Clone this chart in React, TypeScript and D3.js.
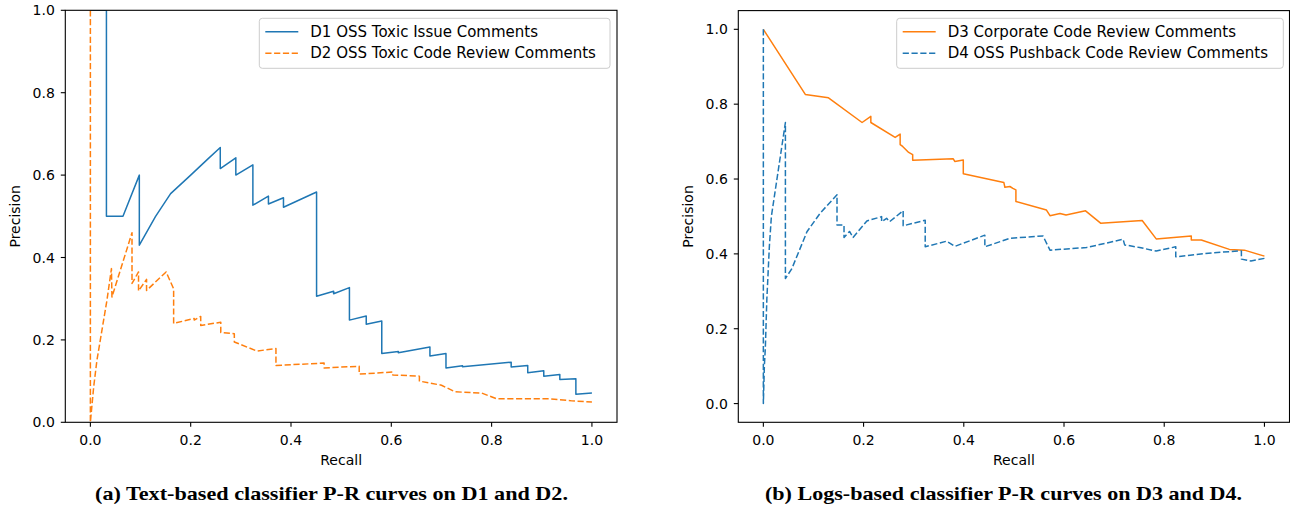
import React from "react";
import * as d3 from "d3";

// ---------- data ----------
const xTicks = [0, 0.2, 0.4, 0.6, 0.8, 1.0];
const yTicksLeft = [0, 0.2, 0.4, 0.6, 0.8, 1.0];
const yTicksRight = [0, 0.2, 0.4, 0.6, 0.8, 1.0];

const d1Recall = [0, 0.032, 0.032, 0.065, 0.0976, 0.0976, 0.13, 0.16, 0.2, 0.235, 0.259, 0.259, 0.29, 0.29, 0.324, 0.324, 0.355, 0.355, 0.385, 0.385, 0.451, 0.451, 0.485, 0.485, 0.5165, 0.5165, 0.55, 0.55, 0.581, 0.581, 0.614, 0.614, 0.677, 0.677, 0.709, 0.709, 0.742, 0.742, 0.839, 0.839, 0.872, 0.872, 0.904, 0.904, 0.936, 0.936, 0.968, 0.968, 1.0];
const d1Precision = [1.0, 1.0, 0.5, 0.5, 0.6, 0.43, 0.5, 0.555, 0.6, 0.64, 0.667, 0.616, 0.642, 0.6, 0.625, 0.527, 0.549, 0.53, 0.545, 0.522, 0.559, 0.306, 0.318, 0.312, 0.327, 0.248, 0.258, 0.238, 0.246, 0.167, 0.172, 0.169, 0.183, 0.161, 0.167, 0.132, 0.137, 0.135, 0.146, 0.134, 0.138, 0.12, 0.125, 0.112, 0.116, 0.104, 0.106, 0.068, 0.071];

const d2Recall = [0, 0, 0.0066, 0.013, 0.023, 0.033, 0.042, 0.043, 0.083, 0.083, 0.096, 0.096, 0.112, 0.112, 0.151, 0.166, 0.166, 0.207, 0.207, 0.22, 0.22, 0.26, 0.26, 0.287, 0.287, 0.332, 0.37, 0.37, 0.438, 0.466, 0.466, 0.536, 0.536, 0.603, 0.603, 0.656, 0.656, 0.7, 0.727, 0.78, 0.81, 0.916, 0.96, 1.0];
const d2Precision = [1.0, 0.0, 0.086, 0.15, 0.223, 0.296, 0.373, 0.304, 0.46, 0.337, 0.365, 0.319, 0.347, 0.32, 0.365, 0.324, 0.24, 0.252, 0.248, 0.257, 0.235, 0.243, 0.218, 0.215, 0.195, 0.173, 0.179, 0.138, 0.142, 0.144, 0.132, 0.136, 0.117, 0.122, 0.115, 0.112, 0.1, 0.09, 0.074, 0.071, 0.057, 0.057, 0.052, 0.049];

const d3Recall = [0, 0.0837, 0.13, 0.197, 0.2145, 0.2145, 0.263, 0.273, 0.273, 0.278, 0.29, 0.298, 0.298, 0.379, 0.382, 0.399, 0.399, 0.48, 0.482, 0.492, 0.498, 0.504, 0.504, 0.565, 0.572, 0.592, 0.604, 0.643, 0.673, 0.756, 0.784, 0.854, 0.854, 0.874, 0.93, 0.96, 1.0];
const d3Precision = [1.0, 0.826, 0.817, 0.751, 0.7675, 0.751, 0.711, 0.72, 0.692, 0.687, 0.671, 0.665, 0.65, 0.654, 0.647, 0.651, 0.614, 0.5906, 0.578, 0.58, 0.575, 0.571, 0.54, 0.517, 0.502, 0.508, 0.504, 0.515, 0.482, 0.489, 0.44, 0.448, 0.437, 0.437, 0.412, 0.41, 0.394];

const d4Recall = [0, 0, 0.002, 0.004, 0.007, 0.012, 0.016, 0.044, 0.044, 0.057, 0.087, 0.1135, 0.147, 0.147, 0.161, 0.161, 0.172, 0.179, 0.2066, 0.236, 0.236, 0.246, 0.252, 0.279, 0.279, 0.323, 0.323, 0.366, 0.382, 0.442, 0.442, 0.492, 0.558, 0.572, 0.645, 0.718, 0.721, 0.751, 0.784, 0.823, 0.823, 0.897, 0.954, 0.954, 0.973, 1.0];
const d4Precision = [1.0, 0.0, 0.1, 0.15, 0.28, 0.42, 0.5, 0.751, 0.334, 0.361, 0.459, 0.509, 0.558, 0.477, 0.477, 0.444, 0.46, 0.444, 0.488, 0.4995, 0.486, 0.495, 0.486, 0.5155, 0.475, 0.49, 0.419, 0.434, 0.42, 0.45, 0.419, 0.4415, 0.448, 0.41, 0.417, 0.439, 0.424, 0.417, 0.4075, 0.419, 0.392, 0.403, 0.408, 0.386, 0.381, 0.388];

const legendLeft = ["D1 OSS Toxic Issue Comments", "D2 OSS Toxic Code Review Comments"];
const legendRight = ["D3 Corporate Code Review Comments", "D4 OSS Pushback Code Review Comments"];
const captions = [
  "(a) Text-based classifier P-R curves on D1 and D2.",
  "(b) Logs-based classifier P-R curves on D3 and D4.",
];

const BLUE = "#1f77b4";
const ORANGE = "#ff7f0e";
const DASH = "6.2,2.6";
const SANS = "'DejaVu Sans', sans-serif";

type Series = { x: number[]; y: number[]; color: string; dash?: string };

function Panel(props: {
  id: string;
  left: number;
  right: number;
  top: number;
  bottom: number;
  yDomain: [number, number];
  yTicks: number[];
  series: Series[];
  legend: string[];
  legendBox: { x: number; w: number };
  caption: string;
  captionX: number;
  captionW: number;
}) {
  const { id, left, right, top, bottom, yDomain, yTicks, series, legend, legendBox, caption, captionX, captionW } = props;
  const x = d3.scaleLinear().domain([-0.05, 1.05]).range([left, right]);
  const y = d3.scaleLinear().domain(yDomain).range([bottom, top]);
  const line = d3
    .line<[number, number]>()
    .x((d) => x(d[0]))
    .y((d) => y(d[1]));
  const fmt = d3.format(".1f");
  const tickLen = 4.5;
  return (
    <g>
      <defs>
        <clipPath id={id}>
          <rect x={left} y={top} width={right - left} height={bottom - top} />
        </clipPath>
      </defs>
      <g clipPath={`url(#${id})`}>
        {series.map((s, i) => (
          <path
            key={i}
            d={line(s.x.map((v, j) => [v, s.y[j]] as [number, number])) || ""}
            fill="none"
            stroke={s.color}
            strokeWidth={1.5}
            strokeDasharray={s.dash}
            strokeLinejoin="round"
          />
        ))}
      </g>
      <rect x={left} y={top} width={right - left} height={bottom - top} fill="none" stroke="#000" strokeWidth={1.1} />
      {xTicks.map((t) => (
        <g key={"x" + t}>
          <line x1={x(t)} x2={x(t)} y1={bottom} y2={bottom + tickLen} stroke="#000" strokeWidth={1.1} />
          <text x={x(t)} y={445} textAnchor="middle" fontFamily={SANS} fontSize={14} fill="#000">
            {fmt(t)}
          </text>
        </g>
      ))}
      {yTicks.map((t) => (
        <g key={"y" + t}>
          <line x1={left - tickLen} x2={left} y1={y(t)} y2={y(t)} stroke="#000" strokeWidth={1.1} />
          <text x={left - tickLen - 6} y={y(t) + 5} textAnchor="end" fontFamily={SANS} fontSize={14} fill="#000">
            {fmt(t)}
          </text>
        </g>
      ))}
      <text x={(left + right) / 2} y={465} textAnchor="middle" fontFamily={SANS} fontSize={14} fill="#000">
        Recall
      </text>
      <text
        transform={`translate(${left - 45},${(top + bottom) / 2}) rotate(-90)`}
        textAnchor="middle"
        fontFamily={SANS}
        fontSize={14}
        fill="#000"
      >
        Precision
      </text>
      <rect
        x={legendBox.x}
        y={18.3}
        width={legendBox.w}
        height={50}
        rx={3}
        fill="#fff"
        fillOpacity={0.8}
        stroke="#cccccc"
        strokeWidth={1}
      />
      {legend.map((l, i) => (
        <g key={l}>
          <line
            x1={legendBox.x + 6}
            x2={legendBox.x + 39}
            y1={31.7 + i * 21.6}
            y2={31.7 + i * 21.6}
            stroke={series[i].color}
            strokeWidth={1.5}
            strokeDasharray={series[i].dash}
          />
          <text x={legendBox.x + 51} y={31.7 + i * 21.6 + 5} fontFamily={SANS} fontSize={15} fill="#000">
            {l}
          </text>
        </g>
      ))}
      <text
        x={captionX}
        y={500}
        fontFamily="'Liberation Serif', serif"
        fontWeight="bold"
        fontSize={19}
        fill="#000"
        textLength={captionW}
        lengthAdjust="spacingAndGlyphs"
      >
        {caption}
      </text>
    </g>
  );
}

export default function App() {
  return (
    <svg
      width={1290}
      height={508}
      style={{ position: "absolute", left: 0, top: 0, background: "#fff" }}
    >
      <rect x={0} y={0} width={1290} height={508} fill="#fff" />
      <Panel
        id="clipA"
        left={65.3}
        right={617}
        top={10.3}
        bottom={422.3}
        yDomain={[0, 1]}
        yTicks={yTicksLeft}
        series={[
          { x: d1Recall, y: d1Precision, color: BLUE },
          { x: d2Recall, y: d2Precision, color: ORANGE, dash: DASH },
        ]}
        legend={legendLeft}
        legendBox={{ x: 259.3, w: 350.7 }}
        caption={captions[0]}
        captionX={95}
        captionW={473}
      />
      <Panel
        id="clipB"
        left={738.3}
        right={1289.5}
        top={10.6}
        bottom={422.3}
        yDomain={[-0.05, 1.05]}
        yTicks={yTicksRight}
        series={[
          { x: d3Recall, y: d3Precision, color: ORANGE },
          { x: d4Recall, y: d4Precision, color: BLUE, dash: DASH },
        ]}
        legend={legendRight}
        legendBox={{ x: 896.7, w: 386.6 }}
        caption={captions[1]}
        captionX={765}
        captionW={477}
      />
    </svg>
  );
}
